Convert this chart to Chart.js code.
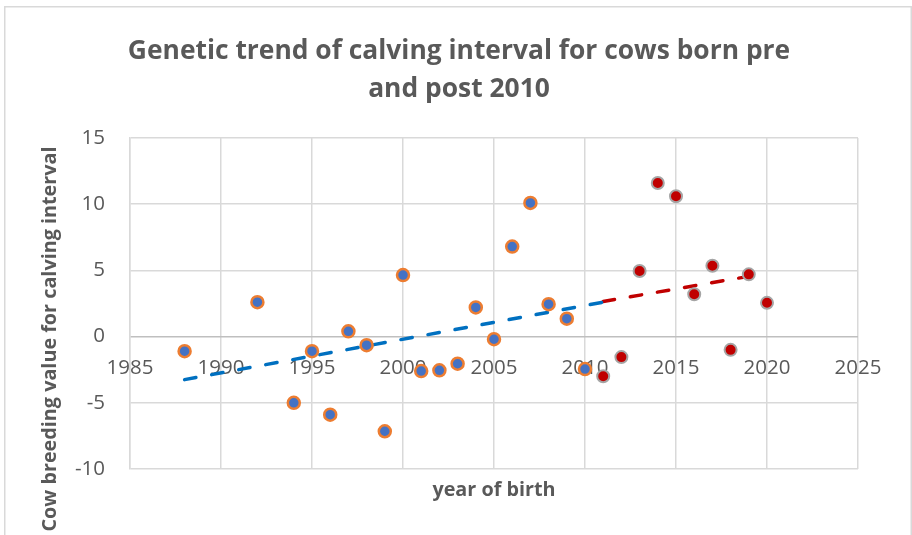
<!DOCTYPE html>
<html>
<head>
<meta charset="utf-8">
<script src="https://cdn.jsdelivr.net/npm/chart.js@4/dist/chart.umd.min.js"></script>
<style>
  html, body { margin: 0; padding: 0; background: #ffffff; }
  #wrap { width: 912px; height: 535px; }
</style>
</head>
<body>
<div id="wrap"><canvas id="chart" width="912" height="535"></canvas></div>
<script>
// cows born up to 2010
const preYears = [1988, 1992, 1994, 1995, 1996, 1997, 1998, 1999, 2000, 2001,
                  2002, 2003, 2004, 2005, 2006, 2007, 2008, 2009, 2010];
const preValues = [-1.1, 2.6, -5.0, -1.1, -5.9, 0.4, -0.65, -7.15, 4.65, -2.6,
                   -2.55, -2.05, 2.2, -0.2, 6.8, 10.1, 2.45, 1.35, -2.45];

// cows born after 2010
const postYears = [2011, 2012, 2013, 2014, 2015, 2016, 2017, 2018, 2019, 2020];
const postValues = [-3.0, -1.55, 4.95, 11.6, 10.6, 3.2, 5.35, -1.0, 4.7, 2.55];

// linear trend end points for each group
const preTrendYears = [1988, 2011];
const preTrendValues = [-3.25, 2.6];
const postTrendYears = [2011, 2019];
const postTrendValues = [2.65, 4.55];

const xTicks = [1985, 1990, 1995, 2000, 2005, 2010, 2015, 2020, 2025];
const yTicks = [-10, -5, 0, 5, 10, 15];

const TEXT_GREY = '#595959';
const GRID_GREY = '#d9d9d9';
const FONT = "'Open Sans', sans-serif";

function toPoints(xs, ys)
{
  return xs.map((x, i) => ({ x: x, y: ys[i] }));
}

// white page with the thin frame round the chart
const frame = {
  id: 'frame',
  beforeDraw(chart) {
    let ctx = chart.ctx;
    ctx.save();
    ctx.fillStyle = '#ffffff';
    ctx.fillRect(0, 0, chart.width, chart.height);
    ctx.strokeStyle = GRID_GREY;
    ctx.lineWidth = 1.5;
    ctx.strokeRect(4.75, 6.75, 906.5, 600);
    ctx.restore();
  }
};

// rotated y axis caption, sits a bit lower than the plot centre
const yCaption = {
  id: 'yCaption',
  afterDraw(chart) {
    let ctx = chart.ctx;
    ctx.save();
    ctx.translate(50, 339);
    ctx.rotate(-Math.PI / 2);
    ctx.font = 'bold 19.8px ' + FONT;
    ctx.fillStyle = TEXT_GREY;
    ctx.textAlign = 'center';
    ctx.textBaseline = 'middle';
    ctx.fillText('Cow breeding value for calving interval', 0, 0);
    ctx.restore();
  }
};

let chart = new Chart(document.getElementById('chart'), {
  type: 'scatter',
  data: {
    datasets: [
      {
        label: 'pre 2010',
        data: toPoints(preYears, preValues),
        backgroundColor: '#4472c4',
        borderColor: '#ed7d31',
        borderWidth: 2.5,
        pointRadius: 6
      },
      {
        label: 'post 2010',
        data: toPoints(postYears, postValues),
        backgroundColor: '#c00000',
        borderColor: '#a5a5a5',
        borderWidth: 2,
        pointRadius: 6
      },
      {
        label: 'trend pre',
        data: toPoints(preTrendYears, preTrendValues),
        showLine: true,
        pointRadius: 0,
        borderColor: '#0070c0',
        borderWidth: 3.5,
        borderDash: [11.5, 16],
        borderCapStyle: 'round'
      },
      {
        label: 'trend post',
        data: toPoints(postTrendYears, postTrendValues),
        showLine: true,
        pointRadius: 0,
        borderColor: '#c00000',
        borderWidth: 3.5,
        borderDash: [11.5, 16],
        borderCapStyle: 'round'
      }
    ]
  },
  options: {
    responsive: false,
    animation: false,
    devicePixelRatio: 1,
    layout: { padding: { left: 6, right: 0, top: 0, bottom: 0 } },
    plugins: {
      legend: { display: false },
      tooltip: { enabled: false },
      title: {
        display: true,
        text: ['Genetic trend of calving interval for cows born pre', 'and post 2010'],
        color: TEXT_GREY,
        font: { family: FONT, size: 26.4, weight: 'bold', lineHeight: 38 / 26.4 },
        padding: { top: 32, bottom: 30 }
      }
    },
    scales: {
      x: {
        type: 'linear',
        position: { y: 0 },
        min: xTicks[0],
        max: xTicks[xTicks.length - 1],
        afterBuildTicks: (scale) => { scale.ticks = xTicks.map(v => ({ value: v })); },
        ticks: {
          color: TEXT_GREY,
          font: { family: FONT, size: 20.5 },
          padding: 19,
          callback: (v) => String(v)
        },
        grid: { color: GRID_GREY, lineWidth: 1.5, drawTicks: false },
        border: { display: false }
      },
      x2: {
        type: 'linear',
        position: 'bottom',
        min: xTicks[0],
        max: xTicks[xTicks.length - 1],
        ticks: { display: false },
        grid: { display: false },
        border: { display: false },
        title: {
          display: true,
          text: 'year of birth',
          color: TEXT_GREY,
          font: { family: FONT, size: 19.8, weight: 'bold' },
          padding: { top: 0, bottom: 33 }
        },
        afterFit: (scale) => { scale.height = 66; }
      },
      y: {
        min: yTicks[0],
        max: yTicks[yTicks.length - 1],
        afterBuildTicks: (scale) => { scale.ticks = yTicks.map(v => ({ value: v })); },
        ticks: {
          color: TEXT_GREY,
          font: { family: FONT, size: 20.5 },
          padding: 25
        },
        grid: {
          color: (c) => (c.tick && c.tick.value === 0) ? '#bfbfbf' : GRID_GREY,
          lineWidth: 1.5,
          drawTicks: false
        },
        border: { color: GRID_GREY, width: 1.5 },
        afterFit: (scale) => { scale.width = 124; }
      },
      // empty strip on the right so the plot ends short of the frame
      yRight: {
        position: 'right',
        min: yTicks[0],
        max: yTicks[yTicks.length - 1],
        ticks: { display: false },
        grid: { display: false },
        border: { display: false },
        afterFit: (scale) => { scale.width = 54; }
      }
    }
  },
  plugins: [frame, yCaption]
});
</script>
</body>
</html>
